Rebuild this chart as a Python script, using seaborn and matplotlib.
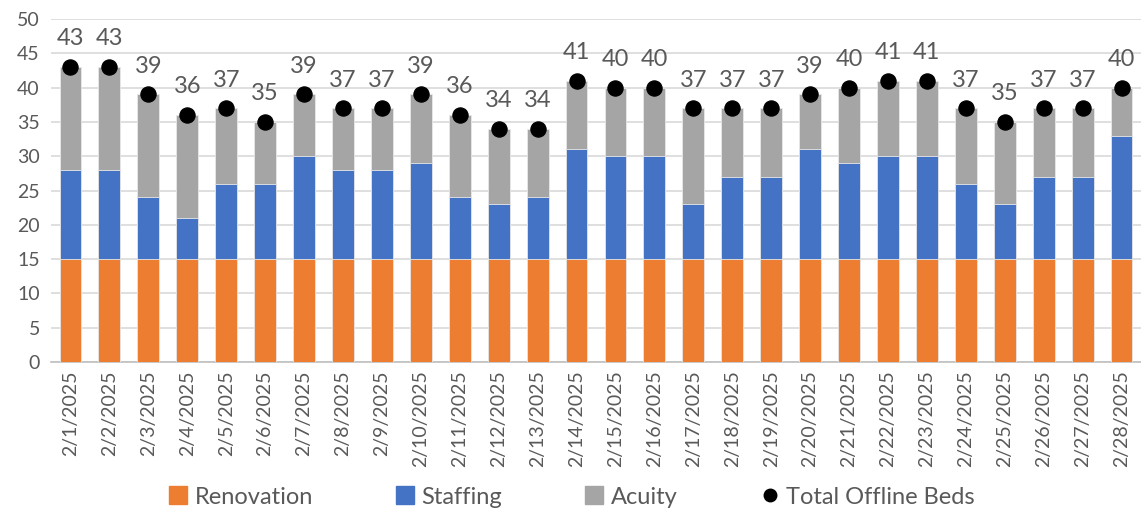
import numpy as np
import pandas as pd
import matplotlib
matplotlib.use("Agg")
import matplotlib.pyplot as plt
from matplotlib.lines import Line2D
import seaborn as sns

# datos
fechas = [f"2/{d}/2025" for d in range(1, 29)]
renovation = [15] * 28
staffing = [13, 13, 9, 6, 11, 11, 15, 13, 13, 14, 9, 8, 9, 16,
            15, 15, 8, 12, 12, 16, 14, 15, 15, 11, 8, 12, 12, 18]
acuity = [15, 15, 15, 15, 11, 9, 9, 9, 9, 10, 12, 11, 10, 10,
          10, 10, 14, 10, 10, 8, 11, 11, 11, 11, 12, 10, 10, 7]
total = [43, 43, 39, 36, 37, 35, 39, 37, 37, 39, 36, 34, 34, 41,
         40, 40, 37, 37, 37, 39, 40, 41, 41, 37, 35, 37, 37, 40]

sns.set_style("white")
plt.rcParams['font.family'] = ['Lato', 'DejaVu Sans']

df = pd.DataFrame({
    'Fecha': fechas,
    'Renovation': renovation,
    'Staffing': staffing,
    'Acuity': acuity,
    'Total': total,
})
df['RenStaff'] = df['Renovation'] + df['Staffing']
df['Stack'] = df['RenStaff'] + df['Acuity']

c_ren = '#ED7D31'
c_sta = '#4472C4'
c_acu = '#A5A5A5'
gris_txt = '#595959'

fig = plt.figure(figsize=(11.41, 5.16), dpi=100)
ax = fig.add_axes([0.0447, 0.2984, 0.9553, 0.6648])

# barras apiladas: se dibuja de mayor a menor
for col, c, z in [('Stack', c_acu, 2), ('RenStaff', c_sta, 3), ('Renovation', c_ren, 4)]:
    sns.barplot(data=df, x='Fecha', y=col, color=c, width=0.56,
                saturation=1, ax=ax, zorder=z, edgecolor='#E8E8E8', linewidth=0.6)

pos = np.arange(len(df))
sns.scatterplot(x=pos, y=df['Total'], color='black', s=120,
                edgecolor='black', ax=ax, zorder=5, legend=False)

for i, v in enumerate(df['Total']):
    ax.text(i, v + 4.1, f'{v}', ha='center', va='center',
            fontsize=17, color=gris_txt)

ax.set_ylim(0, 50)
ax.set_xlim(-0.5, 27.32)
ax.set_yticks(range(0, 51, 5))
ax.yaxis.grid(True, color='#D9D9D9', linewidth=1.2, zorder=0)
ax.set_axisbelow(True)
ax.set_xlabel('')
ax.set_ylabel('')

for s in ['top', 'right', 'left']:
    ax.spines[s].set_visible(False)
ax.spines['bottom'].set_color('#BFBFBF')
ax.spines['bottom'].set_linewidth(1.2)

ax.tick_params(axis='y', length=0, labelsize=14, labelcolor=gris_txt, pad=8)
ax.tick_params(axis='x', which='major', length=0, labelsize=14,
               labelcolor=gris_txt, rotation=90, pad=6)
ax.set_xticks(np.arange(-0.5, 28, 1), minor=True)
ax.tick_params(axis='x', which='minor', length=6, color='#BFBFBF', width=1.2)

handles = [
    Line2D([], [], marker='s', linestyle='', color=c_ren, markersize=13),
    Line2D([], [], marker='s', linestyle='', color=c_sta, markersize=13),
    Line2D([], [], marker='s', linestyle='', color=c_acu, markersize=13),
    Line2D([], [], marker='o', linestyle='', color='black', markersize=9),
]
labels = ['Renovation', 'Staffing', 'Acuity', 'Total Offline Beds']
leg = fig.legend(handles, labels, loc='lower center', ncol=4,
                 bbox_to_anchor=(0.5, -0.025), frameon=False, fontsize=17,
                 handletextpad=0.2, columnspacing=3.4, handlelength=1.0)
for t in leg.get_texts():
    t.set_color(gris_txt)

fig.savefig('out.png', dpi=100)
